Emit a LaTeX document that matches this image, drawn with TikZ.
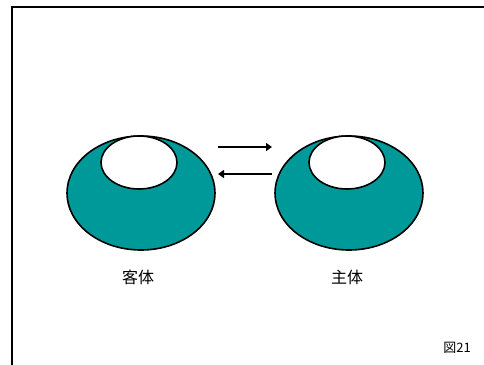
\documentclass[tikz,border=0pt]{standalone}
\usepackage{fontspec}
\newfontfamily\cjk{Noto Sans CJK JP}
\usetikzlibrary{shapes.geometric,arrows.meta}
\definecolor{teal1}{RGB}{0,153,153}
\begin{document}
\begin{tikzpicture}[x=1pt,y=-1pt,
  outer/.style={ellipse,draw=black,line width=1.6pt,fill=teal1,minimum width=148pt,minimum height=114pt,inner sep=0pt},
  inner/.style={ellipse,draw=black,line width=1.6pt,fill=white,minimum width=76pt,minimum height=53pt,inner sep=0pt},
  lab/.style={font=\cjk\fontsize{16}{18}\selectfont},
  arr/.style={line width=2.6pt,-{Triangle[length=6pt,width=8pt]}}]
\useasboundingbox (0,0) rectangle (484,364);
\draw[line width=2.2pt] (12,370) -- (12,7) -- (490,7);
\node[outer] (o1) at (141,193) {};
\node[inner] (i1) at (139,162.5) {};
\node[outer] (o2) at (349,193) {};
\node[inner] (i2) at (347,162.5) {};
\coordinate (a1s) at (218,147);
\coordinate (a1e) at (272,147);
\coordinate (a2s) at (272,174);
\coordinate (a2e) at (218,174);
\draw[arr] (a1s) -- (a1e);
\draw[arr] (a2s) -- (a2e);
\node[lab] (l1) at (138,277) {客体};
\node[lab] (l2) at (347,277) {主体};
\node[font=\cjk\fontsize{13}{15}\selectfont] (fig) at (457,348) {図21};
\end{tikzpicture}
\end{document}
